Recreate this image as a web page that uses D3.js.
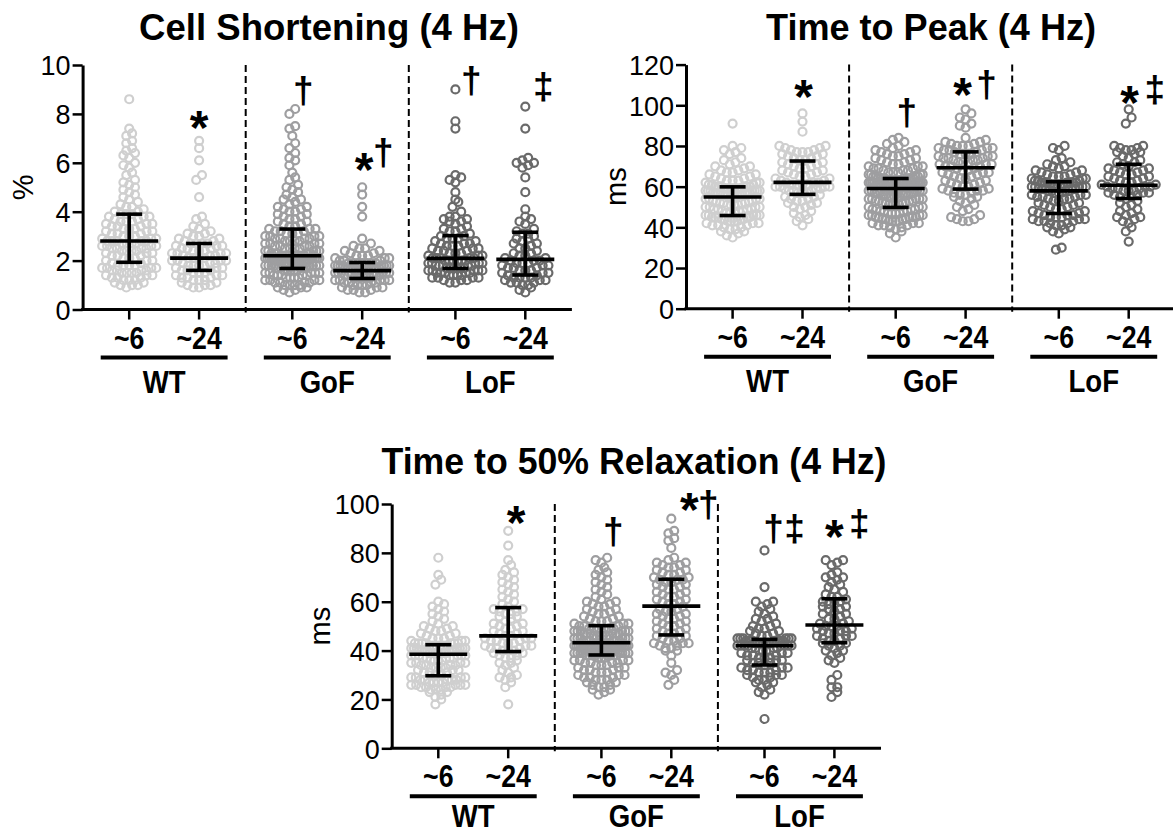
<!DOCTYPE html>
<html><head><meta charset="utf-8">
<script src="https://cdn.jsdelivr.net/npm/d3@7"></script>
<style>body{margin:0;background:#fff}svg text{font-family:"Liberation Sans",Arial,Helvetica,sans-serif}</style>
</head><body><svg id="c" width="1173" height="836"></svg>
<script>
// ---------- categories / labels ----------
const genotypes = ["WT","GoF","LoF"];
const ages = ["~6","~24","~6","~24","~6","~24"];
const titles = ["Cell Shortening (4 Hz)","Time to Peak (4 Hz)","Time to 50% Relaxation (4 Hz)"];
const yLabels = ["%","ms","ms"];
const csTicks = [0,2,4,6,8,10];
const tpTicks = [0,20,40,60,80,100,120];
const trTicks = [0,20,40,60,80,100];

// ---------- Cell shortening (%) ----------
const cs_WT6 = [0.9,1.0,1.0,1.0,1.1,1.1,1.2,1.2,1.2,1.3,1.3,1.3,1.4,1.4,1.4,1.5,1.5,1.5,1.5,1.6,1.6,1.6,1.6,1.7,1.7,1.7,1.7,1.8,1.8,1.8,1.8,1.9,1.9,
2.0,2.0,2.0,2.1,2.1,2.1,2.2,2.2,2.2,2.3,2.3,2.3,2.4,2.4,2.4,2.4,2.5,2.5,2.5,2.5,2.6,2.6,2.6,2.6,2.7,2.7,2.7,2.7,2.8,2.8,2.8,2.8,2.8,
2.9,2.9,2.9,3.0,3.0,3.0,3.1,3.1,3.1,3.2,3.2,3.2,3.3,3.3,3.3,3.4,3.4,3.4,3.5,3.5,3.5,3.6,3.6,3.6,3.7,3.7,3.8,3.8,3.8,3.9,3.9,3.9,
4.0,4.0,4.1,4.2,4.2,4.3,4.4,4.5,4.6,4.7,4.8,4.9,5.0,5.1,5.2,5.3,5.5,5.6,5.8,5.9,6.0,6.2,6.3,6.4,6.5,6.6,6.8,6.9,7.1,7.2,7.4,8.6];
const cs_WT24 = [0.9,0.9,1.0,1.0,1.0,1.1,1.1,1.2,1.2,1.2,1.3,1.3,1.3,1.4,1.4,1.4,1.5,1.5,1.5,1.6,
1.6,1.6,1.7,1.7,1.7,1.8,1.8,1.8,1.8,1.9,1.9,1.9,2.0,2.0,2.0,2.0,2.1,2.1,2.1,2.1,
2.2,2.2,2.2,2.3,2.3,2.3,2.3,2.4,2.4,2.4,2.5,2.5,2.5,2.6,2.6,2.6,2.7,2.7,2.7,2.7,
2.8,2.8,2.9,2.9,3.0,3.0,3.1,3.1,3.2,3.3,3.4,3.5,3.7,3.8,4.6,5.3,5.5,6.1,6.6,6.9];
const cs_GoF6 = [0.7,0.8,0.8,0.9,0.9,0.9,1.0,1.0,1.0,1.0,1.1,1.1,1.1,1.1,1.2,1.2,1.2,1.2,1.3,1.3,1.3,1.3,1.4,1.4,1.4,1.4,1.4,1.5,1.5,1.5,1.5,1.5,1.6,1.6,1.6,1.6,1.6,1.7,1.7,1.7,1.7,1.7,
1.8,1.8,1.8,1.8,1.8,1.8,1.8,1.8,1.9,1.9,1.9,1.9,1.9,1.9,1.9,1.9,2.0,2.0,2.0,2.0,2.0,2.0,2.0,2.0,2.0,2.1,2.1,2.1,2.1,2.1,2.1,2.1,2.1,2.1,2.2,2.2,2.2,2.2,2.2,2.2,2.2,2.2,2.2,
2.3,2.3,2.3,2.3,2.3,2.4,2.4,2.4,2.4,2.4,2.5,2.5,2.5,2.5,2.6,2.6,2.6,2.6,2.7,2.7,2.7,2.7,2.8,2.8,2.8,2.8,2.9,2.9,2.9,2.9,3.0,3.0,3.0,3.0,3.1,3.1,3.1,3.2,3.2,3.2,3.3,3.3,3.3,
3.4,3.4,3.5,3.5,3.6,3.6,3.7,3.7,3.8,3.8,3.9,3.9,4.0,4.0,4.1,4.1,4.2,4.2,4.3,4.4,4.5,4.5,4.6,4.7,4.8,4.9,5.0,5.1,5.3,5.4,5.6,5.9,6.1,6.2,6.4,6.6,6.8,7.1,7.4,7.5,8.0,8.2];
const cs_GoF24 = [0.7,0.7,0.8,0.8,0.8,0.9,0.9,0.9,1.0,1.0,1.0,1.0,1.1,1.1,1.1,1.1,1.2,1.2,1.2,1.2,1.2,1.3,
1.3,1.3,1.3,1.3,1.3,1.4,1.4,1.4,1.4,1.4,1.4,1.5,1.5,1.5,1.5,1.5,1.5,1.6,1.6,1.6,1.6,1.6,1.6,
1.7,1.7,1.7,1.7,1.7,1.7,1.7,1.7,1.8,1.8,1.8,1.8,1.8,1.8,1.8,1.8,1.9,1.9,1.9,1.9,1.9,1.9,1.9,
2.0,2.0,2.0,2.1,2.1,2.1,2.2,2.2,2.2,2.3,2.3,2.4,2.4,2.5,2.5,2.6,2.7,2.9,3.8,4.2,4.7,5.0];
const cs_LoF6 = [1.1,1.1,1.2,1.2,1.2,1.3,1.3,1.3,1.3,1.4,1.4,1.4,1.4,1.5,1.5,1.5,1.5,1.5,1.6,1.6,1.6,1.6,1.6,1.7,1.7,
1.7,1.7,1.7,1.7,1.8,1.8,1.8,1.8,1.8,1.9,1.9,1.9,1.9,1.9,2.0,2.0,2.0,2.0,2.0,2.0,2.1,2.1,2.1,2.1,2.1,
2.2,2.2,2.2,2.3,2.3,2.3,2.4,2.4,2.4,2.5,2.5,2.5,2.6,2.6,2.6,2.7,2.7,2.7,2.8,2.8,2.9,2.9,2.9,3.0,3.0,
3.1,3.2,3.2,3.3,3.3,3.4,3.5,3.6,3.6,3.7,3.7,3.8,3.8,4.0,4.2,4.4,4.5,4.8,5.2,5.3,5.4,5.5,7.4,7.7,9.0];
const cs_LoF24 = [0.7,0.8,0.9,1.0,1.0,1.1,1.1,1.1,1.2,1.2,1.2,1.3,1.3,1.3,1.3,1.4,1.4,
1.5,1.5,1.5,1.6,1.6,1.6,1.7,1.7,1.7,1.8,1.8,1.8,1.9,1.9,1.9,2.0,2.0,2.0,
2.1,2.1,2.2,2.2,2.3,2.3,2.4,2.5,2.5,2.6,2.7,2.7,2.8,2.9,2.9,3.0,3.1,3.1,
3.2,3.3,3.5,3.6,3.7,3.8,4.1,4.8,5.4,5.8,5.9,6.0,6.0,6.1,6.2,7.4,8.3];
const csMedian = [2.80,2.10,2.20,1.59,2.09,2.05];
const csQ1 = [1.93,1.60,1.68,1.27,1.68,1.41];
const csQ3 = [3.90,2.70,3.29,1.92,3.02,3.16];

// ---------- Time to peak (ms) ----------
const tp_WT6 = [35,36,37,38,38,39,39,40,40,41,41,41,42,42,42,43,43,43,43,44,44,44,44,45,45,45,45,45,46,46,46,46,46,
47,47,47,48,48,48,49,49,49,49,50,50,50,50,51,51,51,51,52,52,52,52,53,53,53,53,54,54,54,54,55,55,55,
56,56,56,56,56,56,57,57,57,57,57,57,57,58,58,58,58,58,58,58,59,59,59,59,59,59,60,60,60,60,60,60,
61,61,61,62,62,62,63,63,63,64,64,65,65,66,66,67,67,68,68,69,70,70,71,72,73,74,76,77,78,79,80,91];
const tp_WT24 = [41,43,44,45,46,47,48,49,50,50,51,52,52,53,53,54,54,55,55,56,
57,57,57,58,58,58,59,59,59,60,60,60,60,61,61,61,61,62,62,62,
63,63,64,64,65,65,66,66,67,67,68,68,69,69,70,70,71,71,72,72,
73,73,74,74,75,75,76,76,77,77,77,78,78,79,79,80,80,87,92,96];
const tp_GoF6 = [35,37,38,39,40,40,41,41,41,42,42,42,43,43,43,43,44,44,44,44,45,45,45,45,45,46,46,46,46,47,47,47,47,48,48,48,48,49,49,49,49,50,
50,50,51,51,51,51,52,52,52,52,53,53,53,53,54,54,54,54,54,55,55,55,55,55,56,56,56,56,56,57,57,57,57,57,58,58,58,58,58,59,59,59,59,
60,60,60,60,60,60,60,60,60,61,61,61,61,61,61,61,61,61,62,62,62,62,62,62,62,62,62,63,63,63,63,63,63,63,63,64,64,64,64,64,64,64,64,
65,65,65,65,66,66,66,66,67,67,67,68,68,68,69,69,69,70,70,70,71,71,72,72,73,73,74,74,75,75,76,76,77,77,78,78,79,80,81,82,83,84];
const tp_GoF24 = [43,43,44,44,45,46,48,49,50,51,52,53,54,55,55,56,56,57,57,58,58,58,
59,59,60,60,61,61,62,62,63,63,64,64,65,65,66,66,67,67,67,68,68,69,69,
70,70,70,71,71,71,72,72,72,73,73,73,74,74,74,75,75,75,76,76,76,77,77,
78,78,78,79,79,79,80,80,80,81,81,82,82,83,84,89,90,91,93,94,96,98];
const tp_LoF6 = [29,30,37,38,39,40,40,41,41,42,42,43,43,43,44,44,44,45,45,45,46,46,46,47,47,
48,48,49,49,50,50,51,51,52,52,53,53,54,54,54,55,55,55,56,56,56,57,57,57,58,
58,58,58,59,59,59,59,59,60,60,60,60,60,61,61,61,61,61,62,62,62,62,62,62,62,
63,63,63,64,64,64,65,65,65,66,66,67,67,68,68,69,70,70,71,72,73,74,78,79,80];
const tp_LoF24 = [33,38,40,42,43,44,45,45,46,47,48,49,50,51,52,53,54,
55,55,56,56,57,57,57,58,58,58,59,59,59,60,60,60,61,61,
62,62,63,63,64,64,65,65,66,66,67,67,68,68,69,69,70,71,
72,72,73,74,75,76,77,77,78,78,79,79,80,80,91,94,98];
const tpMedian = [54.9,62.1,59.1,69.3,57.9,60.7];
const tpQ1 = [45.8,56.2,49.8,58.8,46.8,54.2];
const tpQ3 = [59.9,72.6,64.0,77.1,62.4,71.0];

// ---------- Time to 50% relaxation (ms) ----------
const tr_WT6 = [18,20,21,22,23,23,24,24,24,25,25,25,25,26,26,26,26,26,27,27,27,27,28,28,28,28,28,29,29,29,29,30,30,
31,31,31,32,32,32,33,33,33,33,34,34,34,34,35,35,35,35,36,36,36,36,37,37,37,37,37,38,38,38,38,38,38,
39,39,39,39,39,39,39,40,40,40,40,40,40,40,41,41,41,41,41,41,41,42,42,42,42,42,42,43,43,43,43,43,
43,43,44,44,44,45,45,45,46,46,47,47,48,48,49,49,50,50,51,52,53,54,55,56,57,58,59,60,67,69,71,78];
const tr_WT24 = [18,25,27,28,29,29,30,31,32,33,34,35,35,36,37,37,38,38,39,39,
40,40,40,41,41,41,42,42,42,43,43,43,44,44,44,45,45,45,46,46,
47,47,48,48,49,49,50,50,51,51,52,53,54,54,55,55,56,56,57,57,
58,59,60,61,62,63,64,65,66,67,68,69,70,71,72,73,75,77,83,89];
const tr_GoF6 = [22,23,24,24,25,25,26,26,27,27,28,28,28,29,29,29,30,30,30,31,31,31,32,32,32,33,33,33,34,34,34,35,35,35,35,36,36,36,36,37,37,37,
38,38,38,38,38,38,38,38,39,39,39,39,39,39,39,39,40,40,40,40,40,40,40,40,40,41,41,41,41,41,41,41,41,41,42,42,42,42,42,42,42,42,42,
43,43,43,43,43,43,43,44,44,44,44,44,44,45,45,45,45,45,45,46,46,46,46,46,46,47,47,47,47,47,47,48,48,48,48,48,48,49,49,49,49,49,49,
50,50,50,51,51,51,52,52,52,53,53,54,54,55,55,56,56,57,57,58,58,59,59,60,60,61,62,63,64,65,66,67,68,69,70,71,72,73,74,76,77,78];
const tr_GoF24 = [26,28,30,31,32,35,38,40,40,41,41,42,42,43,43,43,44,44,45,45,46,46,
47,47,48,48,49,49,50,50,51,51,52,52,53,53,54,54,55,55,56,56,57,57,58,
59,59,60,60,61,61,62,62,63,63,64,64,65,65,66,66,67,67,68,68,69,69,69,
70,70,71,71,72,72,73,73,74,74,75,75,76,76,77,78,82,85,86,88,89,94];
const tr_LoF6 = [12,22,23,24,25,26,27,27,28,28,29,29,30,30,30,31,31,31,32,32,32,33,33,33,34,
35,35,35,36,36,36,37,37,37,38,38,38,39,39,39,40,40,40,40,41,41,41,41,42,42,
42,42,42,42,42,42,43,43,43,43,43,43,43,44,44,44,44,44,44,44,45,45,45,45,45,
45,46,46,47,47,48,48,49,49,50,50,51,52,53,53,54,55,56,57,58,59,60,60,66,81];
const tr_LoF24 = [21,23,25,25,28,30,35,36,37,38,39,40,40,41,42,42,43,
43,44,44,45,45,46,46,46,47,47,48,48,48,49,49,50,50,50,
51,51,52,53,53,54,55,55,56,57,57,58,58,59,59,60,60,61,
62,62,63,64,65,66,67,68,69,70,70,71,72,75,76,77,77];
const trMedian = [38.5,46.0,43.2,58.2,42.0,50.5];
const trQ1 = [29.7,39.6,38.2,46.4,34.1,43.2];
const trQ3 = [42.4,57.6,50.2,69.2,44.6,61.2];

// significance symbols per group
const csSig = ["","*","†","*†","†","‡"];
const tpSig = ["","*","†","*†","","*‡"];
const trSig = ["","*","†","*†","†‡","*‡"];

// ---------- layout (positions / styles) ----------
const catPos = [0,1,7/3,10/3,14/3,17/3];
const colors = ["#cfcfcf","#cfcfcf","#9e9ea0","#9e9ea0","#6a6a6a","#6a6a6a"];
const layout = [
  {x0:82.6, y0:309.5, yTop:65, ymax:10, ylx:23, tx:329, ty:40, tlen:380, gOff:83,
   sym:{1:[[0,118]],2:[[11,92]],3:[[2,160],[21,154]],4:[[16,82]],5:[[18,88]]}},
  {x0:686, y0:308.7, yTop:64.6, ymax:120, ylx:616, tx:931, ty:40, tlen:330, gOff:83,
   sym:{1:[[1,87]],2:[[11,114]],3:[[-3,85],[21,86]],5:[[1,93],[26,91]]}},
  {x0:391.7, y0:748.3, yTop:504, ymax:100, ylx:320, tx:634, ty:474, tlen:505, gOff:79,
   sym:{1:[[8,513]],2:[[12,533]],3:[[18,500],[37,506]],4:[[9,530],[30,530]],5:[[0,527],[25,525]]}}
];
const panels = [
  {data:[cs_WT6,cs_WT24,cs_GoF6,cs_GoF24,cs_LoF6,cs_LoF24], med:csMedian, q1:csQ1, q3:csQ3, ticks:csTicks, sig:csSig},
  {data:[tp_WT6,tp_WT24,tp_GoF6,tp_GoF24,tp_LoF6,tp_LoF24], med:tpMedian, q1:tpQ1, q3:tpQ3, ticks:tpTicks, sig:tpSig},
  {data:[tr_WT6,tr_WT24,tr_GoF6,tr_GoF24,tr_LoF6,tr_LoF24], med:trMedian, q1:trQ1, q3:trQ3, ticks:trTicks, sig:trSig}
];

const svg = d3.select("#c");
const UNIT = 69.9;

// Prism-like scatter layout: points in the same pixel row are spread sideways
function swarm(vals, y, maxHalf, d){
  const pts = vals.map(v=>({v, y:y(v)})).sort((a,b)=>b.y-a.y);
  const rows=[]; let row=null;
  pts.forEach(p=>{
    if(!row || (row[0].y - p.y) >= d*0.8){ row=[p]; rows.push(row);} else row.push(p);
  });
  rows.forEach(r=>{
    const k=r.length; const s = k>1 ? Math.min(d*0.68, 2*maxHalf/(k-1)) : 0;
    const slots = d3.range(k).map(i=>(i-(k-1)/2)*s).sort((a,b)=>Math.abs(a)-Math.abs(b));
    r.forEach((p,i)=>{ p.dx = slots[i]; });
  });
  return pts;
}

panels.forEach((P,pi)=>{
  const L = layout[pi];
  const x = d3.scaleLinear().domain([-2/3,19/3]).range([L.x0, L.x0+UNIT*7]);
  const y = d3.scaleLinear().domain([0,L.ymax]).range([L.y0, L.yTop]);
  const g = svg.append("g");
  const xEnd = Math.min(1173, x(19/3));

  // dashed separators
  [5/3, 4].forEach(s=>{
    g.append("line").attr("x1",x(s)).attr("x2",x(s)).attr("y1",L.yTop).attr("y2",L.y0+3)
     .attr("stroke","#000").attr("stroke-width",2).attr("stroke-dasharray","7,4");
  });

  // points
  P.data.forEach((vals,gi)=>{
    const pts = swarm(vals, y, 27, 8.5);
    g.append("g").selectAll("circle").data(pts).join("circle")
      .attr("cx",d=>x(catPos[gi])+d.dx).attr("cy",d=>d.y).attr("r",4)
      .attr("fill","none").attr("stroke",colors[gi]).attr("stroke-width",2.2);
  });

  // median + IQR
  P.med.forEach((m,gi)=>{
    const cx = x(catPos[gi]);
    const bg = g.append("g").attr("stroke","#000").attr("stroke-width",3.6);
    bg.append("line").attr("x1",cx-29).attr("x2",cx+29).attr("y1",y(m)).attr("y2",y(m));
    bg.append("line").attr("x1",cx).attr("x2",cx).attr("y1",y(P.q1[gi])).attr("y2",y(P.q3[gi]));
    [P.q1[gi],P.q3[gi]].forEach(q=>bg.append("line").attr("x1",cx-13).attr("x2",cx+13).attr("y1",y(q)).attr("y2",y(q)));
  });

  // y axis
  const ya = g.append("g").attr("transform",`translate(${L.x0},0)`)
    .call(d3.axisLeft(y).tickValues(P.ticks).tickSize(10).tickSizeOuter(0).tickPadding(2).tickFormat(d3.format("d")));
  ya.select(".domain").attr("stroke-width",3);
  ya.selectAll(".tick line").attr("stroke-width",2.5);
  ya.selectAll("text").attr("font-size",27).attr("fill","#000").attr("dy","0.36em");

  // x axis line + ticks + category labels
  g.append("line").attr("x1",L.x0-1.5).attr("x2",xEnd).attr("y1",L.y0).attr("y2",L.y0).attr("stroke","#000").attr("stroke-width",3);
  catPos.forEach((c,gi)=>{
    g.append("line").attr("x1",x(c)).attr("x2",x(c)).attr("y1",L.y0).attr("y2",L.y0+10).attr("stroke","#000").attr("stroke-width",2.5);
    g.append("text").attr("transform",`translate(${x(c)},${L.y0+39}) scale(0.92,1.08)`).attr("text-anchor","middle")
      .attr("font-size",29).attr("font-weight","bold").text(ages[gi]);
  });
  genotypes.forEach((gt,k)=>{
    const a = x(catPos[2*k]), b = x(catPos[2*k+1]);
    g.append("line").attr("x1",a-28.5).attr("x2",b+28.5).attr("y1",L.y0+48).attr("y2",L.y0+48).attr("stroke","#000").attr("stroke-width",4);
    g.append("text").attr("transform",`translate(${(a+b)/2},${L.y0+L.gOff}) scale(0.92,1.06)`).attr("text-anchor","middle")
      .attr("font-size",30).attr("font-weight","bold").text(gt);
  });

  // y label
  g.append("text").attr("transform",`translate(${L.ylx},${(L.y0+L.yTop)/2}) rotate(-90)`)
    .attr("text-anchor","middle").attr("dy","0.35em").attr("font-size",29).text(yLabels[pi]);

  // title
  g.append("text").attr("x",L.tx).attr("y",L.ty).attr("text-anchor","middle")
    .attr("font-size",36).attr("font-weight","bold")
    .attr("textLength",L.tlen).attr("lengthAdjust","spacingAndGlyphs").text(titles[pi]);

  // significance symbols (one text per group, one tspan per character)
  P.sig.forEach((s,gi)=>{
    if(!s) return;
    const pos = L.sym[gi]; const cx = x(catPos[gi]);
    const t = g.append("text").attr("text-anchor","middle").attr("font-weight","bold");
    Array.from(s).forEach((ch,k)=>{
      const isStar = ch==="*"; const fs = isStar?48:37;
      t.append("tspan").attr("x",cx+pos[k][0]).attr("y",pos[k][1] + (isStar?0.55*fs:0.31*fs))
        .attr("font-size",fs).text(ch);
    });
  });
});
</script></body></html>
